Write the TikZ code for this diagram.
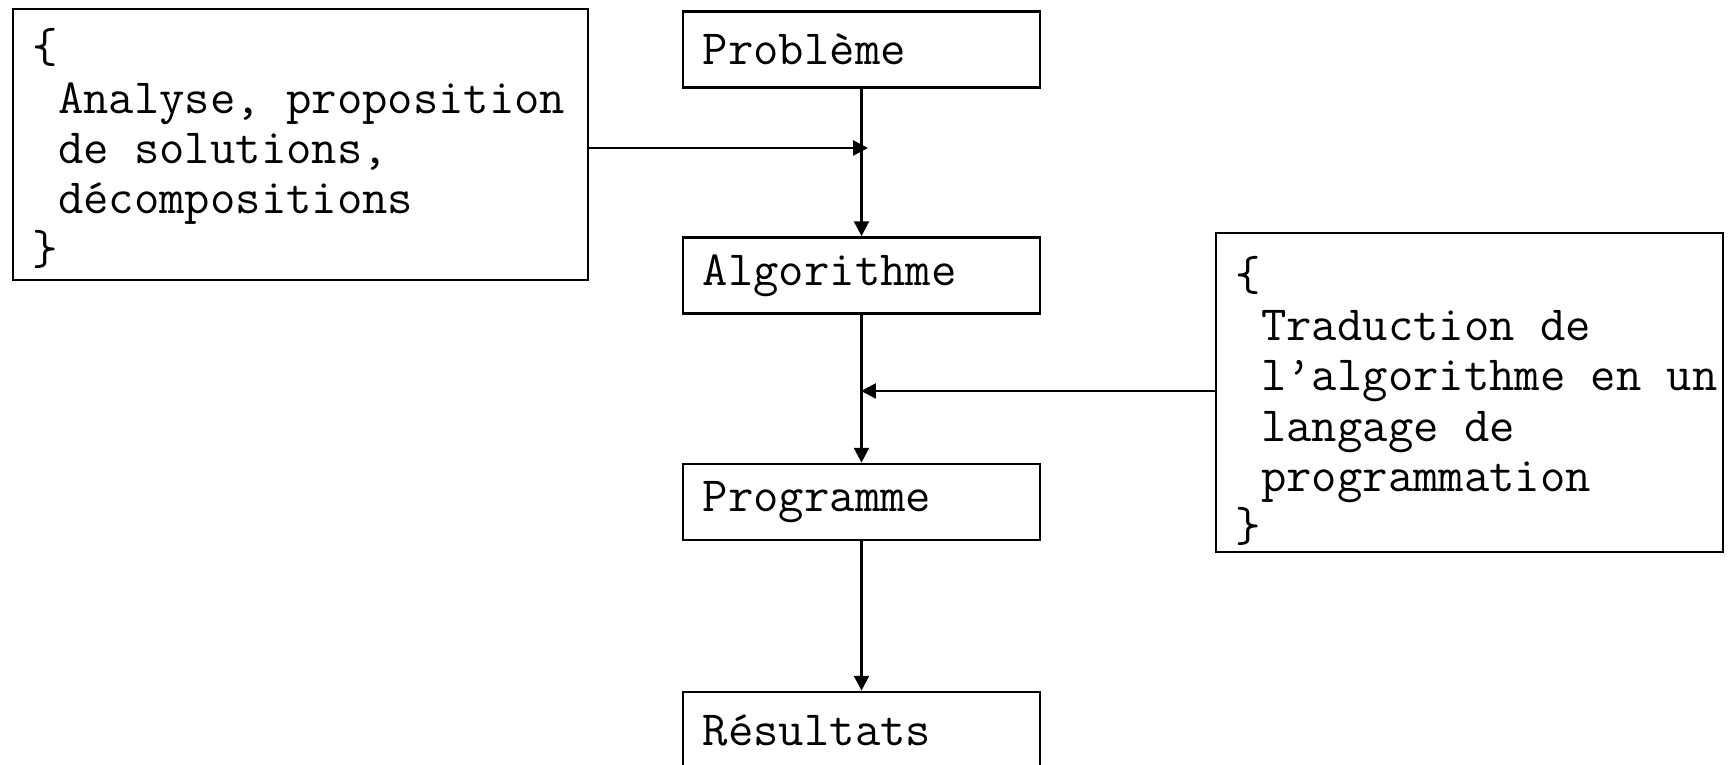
\documentclass[tikz,border=0pt]{standalone}
\usepackage{fontspec}
\usepackage{tikz}
\usetikzlibrary{arrows.meta}
% one mono cell, kept where TeX would drop or squeeze a space
\newcommand{\ttsp}{\hphantom{x}}

\begin{document}
\begin{tikzpicture}[
  x=0.01cm, y=-0.01cm,
  font=\ttfamily\fontsize{14}{14.3}\selectfont,
  >={Triangle[length=4.2pt,width=4.2pt]},
  line width=0.75pt,
  stage/.style={draw, align=left, inner xsep=0.2cm, inner ysep=0pt,
    text width=3.17cm, minimum height=0.76cm},
  note/.style={draw, align=left, inner xsep=0.2cm, inner ysep=0pt},
]
  \useasboundingbox (0,0) rectangle (1733,765);

  % main chain
  \node[stage] (probleme)   at (861.5,49.5) {Problème};
  \node[stage] (algorithme) at (861.5,275.5) {Algorithme};
  \node[stage] (programme)  at (861.5,502) {Programme};
  \node[stage] (resultats)  at (861.5,730) {Résultats};

  % side notes
  \node[note, text width=5.35cm, text height=12pt, minimum height=2.71cm]
    (analyse) at (300.5,144.5)
    {\{\\ \ttsp Analyse,\ttsp proposition\\ \ttsp de\ttsp solutions,\\ \ttsp décompositions\\ \}};
  \node[note, text width=4.67cm, text height=14.5pt, minimum height=3.19cm]
    (traduction) at (1469.5,392.5)
    {\{\\ \ttsp Traduction\ttsp de\\ \ttsp l’algorithme\ttsp en\ttsp un\\ \ttsp langage\ttsp de\\ \ttsp programmation\\ \}};

  \draw[->] (probleme) -- (algorithme);
  \draw[->] (algorithme) -- (programme);
  \draw[->] (programme) -- (resultats);

  % notes joining the chain
  \coordinate (inAnalyse) at (868,148);
  \coordinate (inTraduction) at (861,391);
  \draw[->] (analyse.east |- inAnalyse) -- (inAnalyse);
  \draw[->] (traduction.west |- inTraduction) -- (inTraduction);
\end{tikzpicture}
\end{document}
